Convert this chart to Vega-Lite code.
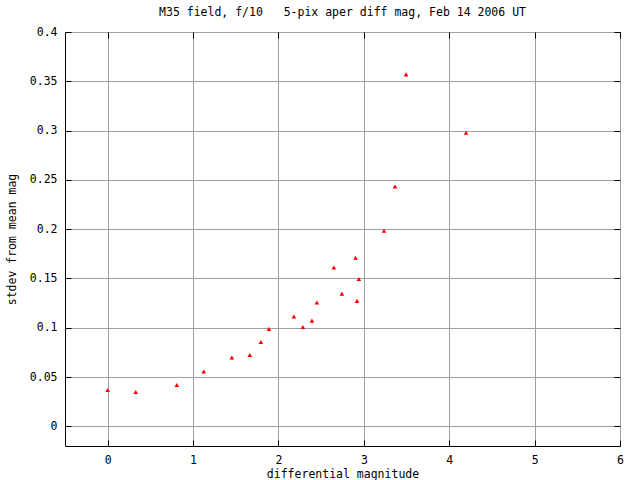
{
  "$schema": "https://vega.github.io/schema/vega-lite/v6.json",
  "autosize": {"type": "none"},
  "width": 555,
  "height": 414,
  "padding": {"left": 65, "top": 32, "right": 20, "bottom": 34},
  "background": "white",
  "title": {
    "text": "M35 field, f/10\u00a0\u00a0\u00a05-pix aper diff mag, Feb 14 2006 UT",
    "font": "DejaVu Sans Mono",
    "fontSize": 11.5,
    "fontWeight": "normal",
    "color": "black",
    "offset": 8
  },
  "config": {
    "view": {"stroke": "black", "strokeWidth": 1},
    "axis": {
      "labelFont": "DejaVu Sans Mono",
      "titleFont": "DejaVu Sans Mono",
      "labelFontSize": 11.5,
      "titleFontSize": 11.5,
      "titleFontWeight": "normal",
      "labelColor": "black",
      "titleColor": "black",
      "gridColor": "#a0a0a0",
      "gridWidth": 1,
      "gridOpacity": 1,
      "domain": false,
      "tickColor": "black",
      "tickSize": -6,
      "tickWidth": 1
    }
  },
  "data": {
    "values": [
      {"mag": 0.0, "stdev": 0.0369},
      {"mag": 0.328, "stdev": 0.0348},
      {"mag": 0.809, "stdev": 0.0419},
      {"mag": 1.125, "stdev": 0.0555},
      {"mag": 1.454, "stdev": 0.0697},
      {"mag": 1.665, "stdev": 0.0724},
      {"mag": 1.794, "stdev": 0.0856},
      {"mag": 1.888, "stdev": 0.0988},
      {"mag": 2.181, "stdev": 0.1113},
      {"mag": 2.286, "stdev": 0.1008},
      {"mag": 2.392, "stdev": 0.1072},
      {"mag": 2.45, "stdev": 0.1255},
      {"mag": 2.649, "stdev": 0.161},
      {"mag": 2.743, "stdev": 0.1346},
      {"mag": 2.903, "stdev": 0.171},
      {"mag": 2.942, "stdev": 0.1495},
      {"mag": 2.919, "stdev": 0.1272},
      {"mag": 3.236, "stdev": 0.1983},
      {"mag": 3.365, "stdev": 0.2433},
      {"mag": 3.494, "stdev": 0.357},
      {"mag": 4.197, "stdev": 0.2978}
    ]
  },
  "layer": [
    {
      "mark": {"type": "point", "shape": "triangle-up", "filled": true, "color": "red", "size": 22, "opacity": 1},
      "encoding": {
        "x": {
          "field": "mag",
          "type": "quantitative",
          "scale": {"domain": [-0.5, 6], "nice": false, "zero": false},
          "axis": {
            "orient": "bottom",
            "title": "differential magnitude",
            "grid": true,
            "values": [0, 1, 2, 3, 4, 5, 6],
            "labelPadding": 14,
            "titlePadding": 3,
            "labelFlush": false,
            "zindex": 0
          }
        },
        "y": {
          "field": "stdev",
          "type": "quantitative",
          "scale": {"domain": [-0.02, 0.4], "nice": false, "zero": false},
          "axis": {
            "orient": "left",
            "title": "stdev from mean mag",
            "grid": true,
            "values": [0, 0.05, 0.1, 0.15, 0.2, 0.25, 0.3, 0.35, 0.4],
            "format": "~g",
            "labelPadding": 14,
            "titlePadding": 12,
            "labelFlush": false,
            "zindex": 0
          }
        }
      }
    },
    {
      "mark": {"type": "point", "shape": "triangle-up", "filled": true, "color": "red", "size": 0, "opacity": 0},
      "encoding": {
        "x": {
          "field": "mag",
          "type": "quantitative",
          "scale": {"domain": [-0.5, 6], "nice": false, "zero": false},
          "axis": {"orient": "top", "title": null, "labels": false, "grid": false, "values": [0, 1, 2, 3, 4, 5, 6], "zindex": 1}
        },
        "y": {
          "field": "stdev",
          "type": "quantitative",
          "scale": {"domain": [-0.02, 0.4], "nice": false, "zero": false},
          "axis": {"orient": "right", "title": null, "labels": false, "grid": false, "values": [0, 0.05, 0.1, 0.15, 0.2, 0.25, 0.3, 0.35, 0.4], "zindex": 1}
        }
      }
    }
  ],
  "resolve": {"scale": {"x": "independent", "y": "independent"}}
}
